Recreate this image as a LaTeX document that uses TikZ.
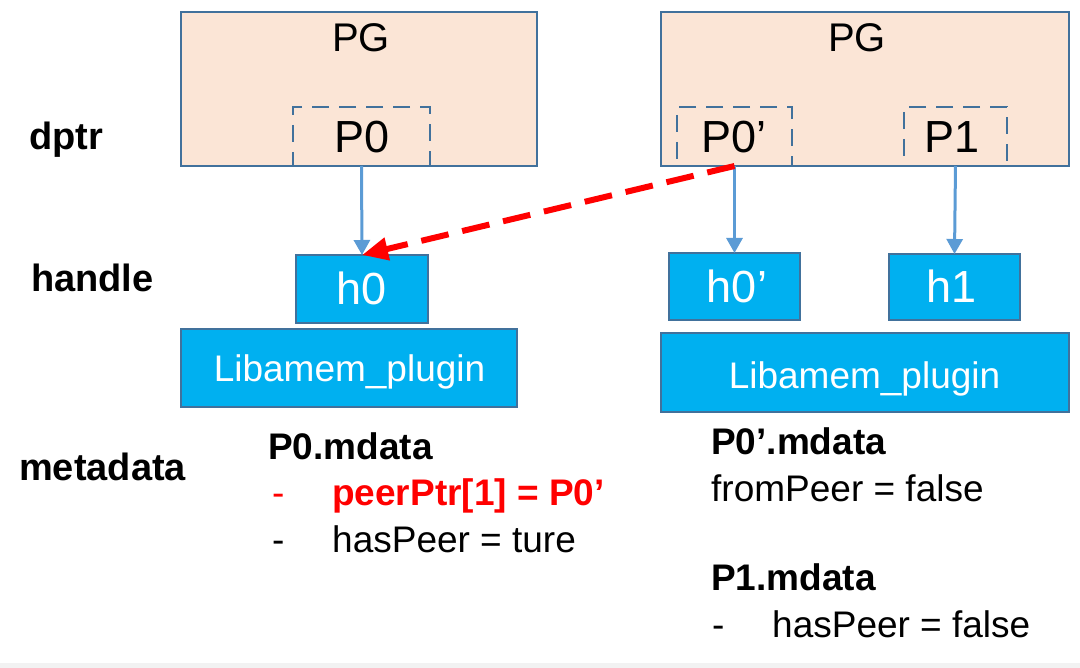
\documentclass[tikz,border=0pt]{standalone}
\usepackage{fontspec}
\setmainfont{Liberation Sans}
\usetikzlibrary{arrows.meta}
\definecolor{peach}{HTML}{FBE5D6}
\definecolor{bord}{HTML}{41719C}
\definecolor{cyanbox}{HTML}{00B0F0}
\definecolor{arrblue}{HTML}{5B9BD5}
\definecolor{redc}{HTML}{FF0000}
\definecolor{bandgray}{HTML}{F2F2F2}
\begin{document}
\begin{tikzpicture}[x=1pt,y=-1pt,
  pgbox/.style={draw=bord, fill=peach, line width=1.8pt, inner sep=0pt, outer sep=0pt},
  dbox/.style={draw=bord, line width=2pt, dash pattern=on 17pt off 10pt, inner sep=0pt, outer sep=0pt},
  hbox/.style={draw=bord, fill=cyanbox, line width=1.8pt, inner sep=0pt, outer sep=0pt},
  pgtxt/.style={font=\fontsize{40}{48}\selectfont, inner sep=0pt, anchor=base},
  ptxt/.style={font=\fontsize{45}{54}\selectfont, inner sep=0pt, anchor=base},
  htxt/.style={font=\fontsize{45}{54}\selectfont, text=white, inner sep=0pt, anchor=base},
  libtxt/.style={font=\fontsize{37}{44}\selectfont, text=white, inner sep=0pt, anchor=base},
  lbl/.style={font=\fontsize{38}{44}\selectfont\bfseries, inner sep=0pt, anchor=base west},
  md/.style={font=\fontsize{37}{44}\selectfont, inner sep=0pt, anchor=base west},
  mdb/.style={font=\fontsize{37}{44}\selectfont\bfseries, inner sep=0pt, anchor=base west},
  barrow/.style={draw=arrblue, line width=3pt, -{Triangle[length=15pt,width=16pt]}},
  rarrow/.style={draw=redc, line width=6pt, dash pattern=on 28pt off 14pt, -{Triangle[length=26pt,width=22pt]}}
]
\useasboundingbox (0,0) rectangle (1080,668);
\fill[bandgray] (0,663) rectangle (1080,668);

% PG boxes
\node[pgbox, minimum width=356pt, minimum height=154pt] (pg1) at (359,89) {};
\node[pgbox, minimum width=408pt, minimum height=154pt] (pg2) at (865,89) {};
\node[pgtxt] (pg1t) at (361,52) {PG};
\node[pgtxt] (pg2t) at (857,52) {PG};

% dashed pointer boxes
\node[dbox, minimum width=137pt, minimum height=59pt] (p0) at (361.5,136.5) {};
\node[dbox, minimum width=115pt, minimum height=59pt] (p0p) at (734.5,136.5) {};
\node[dbox, minimum width=103pt, minimum height=59pt] (p1) at (955.5,136.5) {};
\node[ptxt] (p0t) at (362,153) {P0};
\node[ptxt] (p0pt) at (734,153) {P0’};
\node[ptxt] (p1t) at (952,153) {P1};

% handle boxes
\node[hbox, minimum width=132pt, minimum height=68pt] (h0) at (362,289) {};
\node[hbox, minimum width=131pt, minimum height=67pt] (h0p) at (734.5,286.5) {};
\node[hbox, minimum width=131pt, minimum height=66pt] (h1) at (954.5,287) {};
\node[htxt] (h0t) at (362,305) {h0};
\node[htxt] (h0pt) at (737,303) {h0’};
\node[htxt] (h1t) at (951.5,303) {h1};

% plugin boxes
\node[hbox, minimum width=336pt, minimum height=78pt] (lib1) at (349,368) {};
\node[hbox, minimum width=408pt, minimum height=79pt] (lib2) at (865,372.5) {};
\node[libtxt] (lib1t) at (349.5,382) {Libamem\_plugin};
\node[libtxt] (lib2t) at (864.5,389) {Libamem\_plugin};

% connectors
\draw[barrow] (p0.south) -- (h0.north);
\draw[barrow] (p0p.south) -- (h0p.north);
\draw[barrow] (p1.south) -- (h1.north);
\draw[rarrow] (p0p.south) -- (h0.north);

% row labels
\node[lbl] (ldptr) at (29,150) {dptr};
\node[lbl] (lhandle) at (31,292) {handle};
\node[lbl] (lmeta) at (19,480) {metadata};

% metadata left
\node[mdb] (m1) at (268,460) {P0.mdata};
\node[md, text=redc] (m2d) at (272,505) {-};
\node[mdb, text=redc] (m2) at (332,505) {peerPtr[1] = P0’};
\node[md] (m3d) at (272,552) {-};
\node[md] (m3) at (332,552) {hasPeer = ture};

% metadata right
\node[mdb] (n1) at (711,454) {P0’.mdata};
\node[md] (n2) at (711,501) {fromPeer = false};
\node[mdb] (n3) at (711,590) {P1.mdata};
\node[md] (n4d) at (712,637) {-};
\node[md] (n4) at (772,637) {hasPeer = false};
\end{tikzpicture}
\end{document}
